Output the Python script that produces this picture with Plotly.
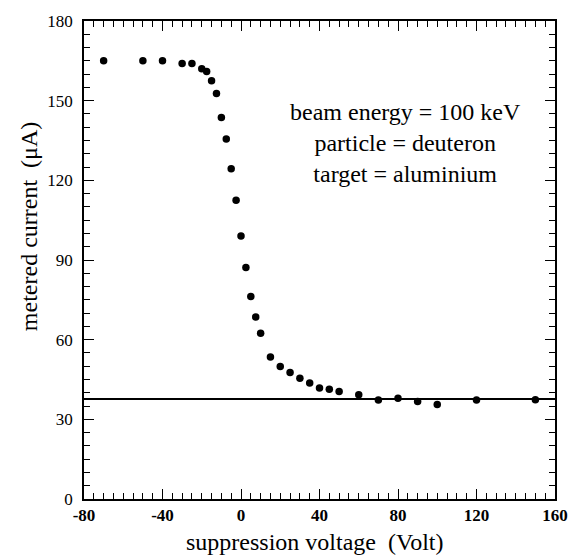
import plotly.graph_objects as go

# Suppression voltage scan: metered beam current vs. voltage on the suppressor
voltage_V = [-70, -50, -40, -30, -25, -20, -17.5, -15, -12.5, -10, -7.5, -5, -2.5,
             0, 2.5, 5, 7.5, 10, 15, 20, 25, 30, 35, 40, 45, 50, 60, 70, 80, 90,
             100, 120, 150]
current_uA = [165, 165, 165, 164, 164, 162, 161, 157.5, 152.7, 143.7, 135.6, 124.4,
              112.5, 99, 87.2, 76.3, 68.5, 62.4, 53.5, 49.9, 47.6, 45.5, 43.7, 41.8,
              41.3, 40.5, 39.3, 37.3, 37.9, 36.7, 35.6, 37.3, 37.4]

# saturated (true) beam current level
true_current_uA = 37.7

x_range = [-80, 160]
y_range = [0, 180]
x_ticks = [-80, -40, 0, 40, 80, 120, 160]
x_tick_text = ["-80", "-40", "0", "40", "80", "120", "160"]
y_ticks = [0, 30, 60, 90, 120, 150, 180]
x_minor_step = 5
y_minor_step = 5

info_lines = ["beam energy = 100 keV", "particle = deuteron", "target = aluminium"]

FONT = "Liberation Serif"
W, H = 580, 559
L, R, T, B = 84, 13, 18, 60

fig = go.Figure()

fig.add_trace(go.Scatter(
    x=x_range, y=[true_current_uA, true_current_uA],
    mode="lines", line=dict(color="black", width=2),
    hoverinfo="skip", showlegend=False,
))

fig.add_trace(go.Scatter(
    x=voltage_V, y=current_uA, mode="markers",
    marker=dict(color="black", size=7.5),
    showlegend=False,
))

axis_common = dict(
    showline=True, linecolor="black", linewidth=1.6, mirror="allticks",
    ticks="inside", ticklen=10, tickwidth=1.4, tickcolor="black",
    showgrid=False, zeroline=False, ticklabeloverflow="allow",
)

fig.update_xaxes(
    range=x_range, tickmode="array", tickvals=x_ticks, ticktext=x_tick_text,
    tickfont=dict(family=FONT, size=17, color="black", weight="bold"),
    minor=dict(tick0=x_range[0], dtick=x_minor_step, ticks="inside", ticklen=6,
               tickwidth=1.2, tickcolor="black"),
    **axis_common,
)
fig.update_yaxes(
    range=y_range, tickmode="array", tickvals=y_ticks,
    tickfont=dict(family=FONT, size=17, color="black"),
    minor=dict(tick0=y_range[0], dtick=y_minor_step, ticks="inside", ticklen=6,
               tickwidth=1.2, tickcolor="black"),
    ticklabelstandoff=6,
    **axis_common,
)

pw = W - L - R
ph = H - T - B

annotations = [
    dict(text="<br>".join(info_lines), x=84, y=134, xref="x", yref="y",
         xanchor="center", yanchor="middle", align="center", showarrow=False,
         font=dict(family=FONT, size=24, color="black")),
    dict(text="suppression voltage \u00a0(Volt)",
         x=(321 - L) / pw, y=-(542 - (H - B)) / ph, xref="paper", yref="paper",
         xanchor="center", yanchor="middle", showarrow=False,
         font=dict(family=FONT, size=24, color="black")),
    dict(text="metered current \u00a0(\u03bcA)", textangle=-90,
         x=(27 - L) / pw, y=((H - B) - 225) / ph, xref="paper", yref="paper",
         xanchor="center", yanchor="middle", showarrow=False,
         font=dict(family=FONT, size=24, color="black")),
]

fig.update_layout(
    width=W, height=H,
    margin=dict(l=L, r=R, t=T, b=B, pad=0),
    paper_bgcolor="white", plot_bgcolor="white",
    annotations=annotations,
)

fig.write_html("out.html")
